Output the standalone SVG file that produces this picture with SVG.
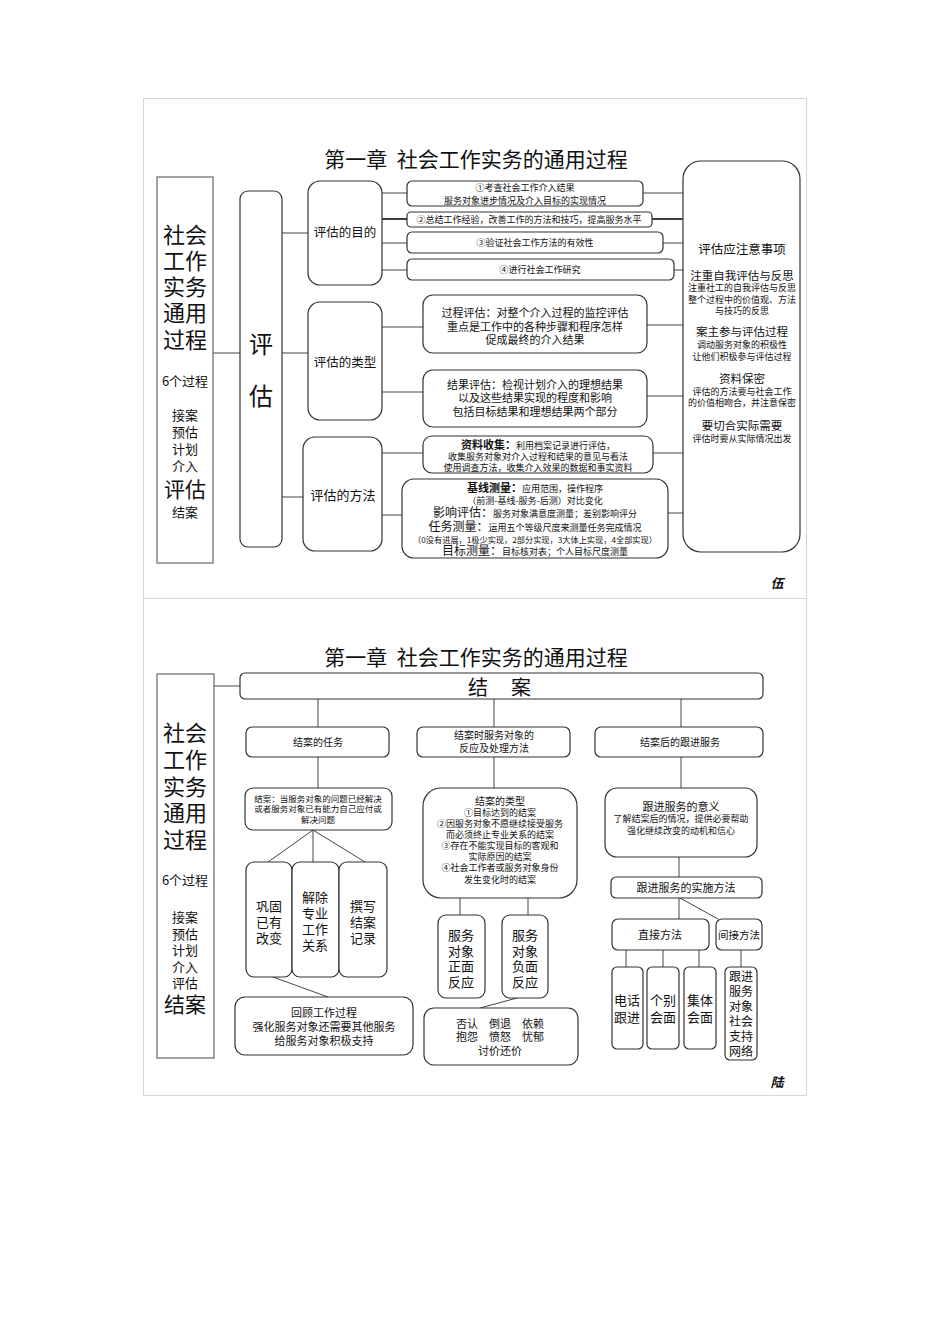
<svg xmlns="http://www.w3.org/2000/svg" width="950" height="1344" viewBox="0 0 950 1344">
<style>
.fr{fill:none;stroke:#d6d6d6;stroke-width:1}
.sq{fill:#fff;stroke:#666;stroke-width:1.2}
.bx{fill:#fff;stroke:#333;stroke-width:1.2}
.ln{stroke:#444;stroke-width:1;fill:none}
.lk{stroke:#111;stroke-width:1.6;fill:none}
text{font-family:"Noto Sans CJK SC","Noto Sans CJK JP",sans-serif;fill:#111;text-anchor:middle}
.b{font-weight:bold}
.ttl{font-size:21px;white-space:pre}
.sig{font-size:13px;font-weight:bold;font-style:italic}
</style>
<rect width="950" height="1344" fill="#fff"/>
<g id="frames">
<rect class="fr" x="143.5" y="98.5" width="663" height="500"/>
<rect class="fr" x="143.5" y="598.5" width="663" height="497"/>
</g>

<g id="connectors">
<line class="ln" x1="213" y1="353" x2="240" y2="353"/>
<line class="ln" x1="282" y1="233" x2="308" y2="233"/>
<line class="ln" x1="282" y1="353" x2="308" y2="353"/>
<line class="ln" x1="282" y1="497" x2="303" y2="497"/>
<line class="ln" x1="382" y1="193" x2="407" y2="193"/>
<line class="lk" x1="382" y1="219" x2="407" y2="219"/>
<line class="ln" x1="382" y1="243" x2="407" y2="243"/>
<line class="ln" x1="382" y1="270" x2="407" y2="270"/>
<line class="ln" x1="643" y1="193" x2="683" y2="193"/>
<line class="lk" x1="652" y1="219" x2="683" y2="219"/>
<line class="ln" x1="663" y1="243" x2="683" y2="243"/>
<line class="ln" x1="674" y1="270" x2="683" y2="270"/>
<line class="ln" x1="382" y1="327" x2="423" y2="327"/>
<line class="ln" x1="382" y1="392" x2="423" y2="392"/>
<line class="ln" x1="647" y1="325" x2="683" y2="325"/>
<line class="ln" x1="647" y1="396" x2="683" y2="396"/>
<line class="ln" x1="382" y1="453" x2="423" y2="453"/>
<line class="ln" x1="382" y1="515" x2="402" y2="515"/>
<line class="ln" x1="653" y1="453" x2="683" y2="453"/>
<line class="ln" x1="668" y1="513" x2="683" y2="513"/>

<line class="ln" x1="214" y1="686" x2="240" y2="686"/>
<line class="ln" x1="318" y1="699" x2="318" y2="727"/>
<line class="ln" x1="494" y1="699" x2="494" y2="727"/>
<line class="ln" x1="681" y1="699" x2="681" y2="727"/>
<line class="ln" x1="318" y1="757" x2="318" y2="788"/>
<line class="ln" x1="494" y1="757" x2="494" y2="788"/>
<line class="ln" x1="681" y1="757" x2="681" y2="788"/>
<line class="ln" x1="313" y1="830" x2="268" y2="862"/>
<line class="ln" x1="313" y1="830" x2="313" y2="862"/>
<line class="ln" x1="313" y1="830" x2="365" y2="862"/>
<line class="ln" x1="273" y1="977" x2="328" y2="997"/>
<line class="ln" x1="460" y1="898" x2="460" y2="915"/>
<line class="ln" x1="528" y1="898" x2="528" y2="915"/>
<line class="ln" x1="517" y1="998" x2="480" y2="1008"/>
<line class="ln" x1="679" y1="857" x2="679" y2="877"/>
<line class="ln" x1="679" y1="898" x2="679" y2="919"/>
<line class="ln" x1="680" y1="898" x2="718" y2="919"/>
<line class="ln" x1="626" y1="950" x2="626" y2="967"/>
<line class="ln" x1="663" y1="950" x2="663" y2="967"/>
<line class="ln" x1="699" y1="950" x2="699" y2="967"/>
<line class="ln" x1="741" y1="950" x2="741" y2="967"/>
</g>

<g id="title1"><text class="ttl" x="476" y="167" xml:space="preserve">第一章  社会工作实务的通用过程</text></g>

<g id="left1">
<rect class="sq" x="157" y="177" width="56" height="386"/>
<text x="185" font-size="22"><tspan x="185" y="243">社会</tspan><tspan x="185" y="269">工作</tspan><tspan x="185" y="295">实务</tspan><tspan x="185" y="321">通用</tspan><tspan x="185" y="348">过程</tspan></text>
<text x="185" y="386" font-size="13">6个过程</text>
<text font-size="13"><tspan x="185" y="420">接案</tspan><tspan x="185" y="437">预估</tspan><tspan x="185" y="454">计划</tspan><tspan x="185" y="471">介入</tspan></text>
<text x="185" y="497" font-size="21">评估</text>
<text x="185" y="517" font-size="13">结案</text>
</g>

<g id="eval">
<rect class="bx" x="240" y="191" width="42" height="356" rx="8"/>
<text x="261" y="353" font-size="24">评</text>
<text x="261" y="405" font-size="24">估</text>
</g>

<g id="purpose">
<rect class="bx" x="308" y="181" width="74" height="104" rx="12"/>
<text x="345" y="237" font-size="12.5">评估的目的</text>
</g>
<g id="types">
<rect class="bx" x="308" y="302" width="74" height="118" rx="12"/>
<text x="345" y="367" font-size="12.5">评估的类型</text>
</g>
<g id="methods">
<rect class="bx" x="303" y="437" width="79" height="114" rx="12"/>
<text x="343" y="500" font-size="13">评估的方法</text>
</g>

<g id="p1">
<rect class="bx" x="407" y="181" width="236" height="25" rx="5"/>
<text x="525" y="191" font-size="9">①考查社会工作介入结果</text>
<text x="525" y="204" font-size="9">服务对象进步情况及介入目标的实现情况</text>
</g>
<g id="p2">
<rect class="bx" x="407" y="212" width="245" height="15" rx="4"/>
<text x="529" y="223" font-size="9">②总结工作经验，改善工作的方法和技巧，提高服务水平</text>
</g>
<g id="p3">
<rect class="bx" x="407" y="232" width="256" height="21" rx="5"/>
<text x="535" y="246" font-size="9">③验证社会工作方法的有效性</text>
</g>
<g id="p4">
<rect class="bx" x="407" y="259" width="267" height="21" rx="5"/>
<text x="540" y="273" font-size="9">④进行社会工作研究</text>
</g>

<g id="notes">
<rect class="bx" x="683" y="161" width="117" height="391" rx="18"/>
<text x="742" y="254" font-size="12.5">评估应注意事项</text>
<text x="742" y="280" font-size="11.5">注重自我评估与反思</text>
<text font-size="9"><tspan x="742" y="291">注重社工的自我评估与反思</tspan><tspan x="742" y="302.5">整个过程中的价值观、方法</tspan><tspan x="742" y="314">与技巧的反思</tspan></text>
<text x="742" y="336" font-size="11.5">案主参与评估过程</text>
<text font-size="9"><tspan x="742" y="348">调动服务对象的积极性</tspan><tspan x="742" y="360">让他们积极参与评估过程</tspan></text>
<text x="742" y="383" font-size="11.5">资料保密</text>
<text font-size="9"><tspan x="742" y="394.5">评估的方法要与社会工作</tspan><tspan x="742" y="405.5">的价值相吻合，并注意保密</tspan></text>
<text x="742" y="430" font-size="11.5">要切合实际需要</text>
<text x="742" y="442" font-size="9">评估时要从实际情况出发</text>
</g>

<g id="tA">
<rect class="bx" x="423" y="295" width="224" height="58" rx="10"/>
<text font-size="11"><tspan x="535" y="317">过程评估：对整个介入过程的监控评估</tspan><tspan x="535" y="331">重点是工作中的各种步骤和程序怎样</tspan><tspan x="535" y="344">促成最终的介入结果</tspan></text>
</g>
<g id="tB">
<rect class="bx" x="423" y="370" width="224" height="57" rx="10"/>
<text font-size="11"><tspan x="535" y="389">结果评估：检视计划介入的理想结果</tspan><tspan x="535" y="402">以及这些结果实现的程度和影响</tspan><tspan x="535" y="416">包括目标结果和理想结果两个部分</tspan></text>
</g>
<g id="mC">
<rect class="bx" x="423" y="436" width="230" height="37" rx="9"/>
<text x="538" y="449"><tspan font-size="11" class="b">资料收集：</tspan><tspan font-size="9">利用档案记录进行评估，</tspan></text>
<text x="538" y="460" font-size="9">收集服务对象对介入过程和结果的意见与看法</text>
<text x="538" y="471" font-size="9">使用调查方法，收集介入效果的数据和事实资料</text>
</g>
<g id="mD">
<rect class="bx" x="402" y="479" width="266" height="79" rx="12"/>
<text x="535" y="492"><tspan font-size="11" class="b">基线测量：</tspan><tspan font-size="9">应用范围，操作程序</tspan></text>
<text x="535" y="503.5" font-size="9">（前测-基线-服务-后测）对比变化</text>
<text x="535" y="517"><tspan font-size="12">影响评估：</tspan><tspan font-size="9">服务对象满意度测量；差别影响评分</tspan></text>
<text x="535" y="531"><tspan font-size="12">任务测量：</tspan><tspan font-size="9">运用五个等级尺度来测量任务完成情况</tspan></text>
<text x="535" y="542.5" font-size="8.2">（0没有进展，1极少实现，2部分实现，3大体上实现，4全部实现）</text>
<text x="535" y="555"><tspan font-size="12">目标测量：</tspan><tspan font-size="9">目标核对表；个人目标尺度测量</tspan></text>
</g>
<g id="sig1"><text class="sig" x="777" y="588">伍</text></g>

<g id="title2"><text class="ttl" x="476" y="665" xml:space="preserve">第一章  社会工作实务的通用过程</text></g>

<g id="left2">
<rect class="sq" x="157" y="674" width="57" height="384"/>
<text font-size="22"><tspan x="185" y="741">社会</tspan><tspan x="185" y="768">工作</tspan><tspan x="185" y="795">实务</tspan><tspan x="185" y="821">通用</tspan><tspan x="185" y="848">过程</tspan></text>
<text x="185" y="885" font-size="13">6个过程</text>
<text font-size="13"><tspan x="185" y="922">接案</tspan><tspan x="185" y="938.5">预估</tspan><tspan x="185" y="955">计划</tspan><tspan x="185" y="971.5">介入</tspan><tspan x="185" y="988">评估</tspan></text>
<text x="185" y="1012" font-size="21">结案</text>
</g>

<g id="jiean">
<rect class="bx" x="240" y="673" width="523" height="26" rx="5"/>
<text x="478" y="695" font-size="20">结</text>
<text x="521" y="695" font-size="20">案</text>
</g>
<g id="s1">
<rect class="bx" x="246" y="727" width="143" height="30" rx="6"/>
<text x="318" y="746" font-size="10">结案的任务</text>
</g>
<g id="s2">
<rect class="bx" x="417" y="727" width="153" height="30" rx="6"/>
<text x="494" y="739" font-size="10">结案时服务对象的</text>
<text x="494" y="752" font-size="10">反应及处理方法</text>
</g>
<g id="s3">
<rect class="bx" x="595" y="727" width="168" height="30" rx="6"/>
<text x="680" y="746" font-size="10">结案后的跟进服务</text>
</g>

<g id="L1">
<rect class="bx" x="245" y="788" width="147" height="42" rx="8"/>
<text font-size="8.5"><tspan x="318" y="802">结案：当服务对象的问题已经解决</tspan><tspan x="318" y="812">或者服务对象已有能力自己应付或</tspan><tspan x="318" y="823">解决问题</tspan></text>
</g>
<g id="L2a">
<rect class="bx" x="246" y="862" width="46" height="115" rx="8"/>
<text font-size="13"><tspan x="269" y="911">巩固</tspan><tspan x="269" y="927">已有</tspan><tspan x="269" y="943">改变</tspan></text>
</g>
<g id="L2b">
<rect class="bx" x="292" y="862" width="47" height="115" rx="8"/>
<text font-size="13"><tspan x="315" y="902">解除</tspan><tspan x="315" y="918">专业</tspan><tspan x="315" y="934">工作</tspan><tspan x="315" y="950">关系</tspan></text>
</g>
<g id="L2c">
<rect class="bx" x="339" y="862" width="48" height="115" rx="8"/>
<text font-size="13"><tspan x="363" y="911">撰写</tspan><tspan x="363" y="927">结案</tspan><tspan x="363" y="943">记录</tspan></text>
</g>
<g id="L3">
<rect class="bx" x="235" y="997" width="178" height="58" rx="10"/>
<text font-size="11"><tspan x="324" y="1017">回顾工作过程</tspan><tspan x="324" y="1031">强化服务对象还需要其他服务</tspan><tspan x="324" y="1045">给服务对象积极支持</tspan></text>
</g>

<g id="M1">
<rect class="bx" x="423" y="788" width="154" height="110" rx="18"/>
<text x="500" y="805" font-size="10">结案的类型</text>
<text font-size="9"><tspan x="500" y="816">①目标达到的结案</tspan><tspan x="500" y="827">②因服务对象不愿继续接受服务</tspan><tspan x="500" y="838">而必须终止专业关系的结案</tspan><tspan x="500" y="849">③存在不能实现目标的客观和</tspan><tspan x="500" y="860">实际原因的结案</tspan><tspan x="500" y="871">④社会工作者或服务对象身份</tspan><tspan x="500" y="883">发生变化时的结案</tspan></text>
</g>
<g id="M2a">
<rect class="bx" x="438" y="915" width="47" height="83" rx="8"/>
<text font-size="13"><tspan x="461" y="940">服务</tspan><tspan x="461" y="955.5">对象</tspan><tspan x="461" y="971">正面</tspan><tspan x="461" y="986.5">反应</tspan></text>
</g>
<g id="M2b">
<rect class="bx" x="502" y="915" width="46" height="83" rx="8"/>
<text font-size="13"><tspan x="525" y="940">服务</tspan><tspan x="525" y="955.5">对象</tspan><tspan x="525" y="971">负面</tspan><tspan x="525" y="986.5">反应</tspan></text>
</g>
<g id="M3">
<rect class="bx" x="424" y="1008" width="154" height="57" rx="10"/>
<text font-size="11"><tspan x="500" y="1028">否认　倒退　依赖</tspan><tspan x="500" y="1041">抱怨　愤怒　忧郁</tspan><tspan x="500" y="1055">讨价还价</tspan></text>
</g>

<g id="R1">
<rect class="bx" x="605" y="788" width="152" height="69" rx="12"/>
<text x="681" y="811" font-size="11">跟进服务的意义</text>
<text font-size="9"><tspan x="681" y="822">了解结案后的情况，提供必要帮助</tspan><tspan x="681" y="834">强化继续改变的动机和信心</tspan></text>
</g>
<g id="R2">
<rect class="bx" x="611" y="877" width="151" height="21" rx="5"/>
<text x="686" y="892" font-size="11">跟进服务的实施方法</text>
</g>
<g id="R3a">
<rect class="bx" x="612" y="919" width="97" height="31" rx="6"/>
<text x="660" y="939" font-size="11">直接方法</text>
</g>
<g id="R3b">
<rect class="bx" x="716" y="919" width="46" height="31" rx="6"/>
<text x="739" y="939" font-size="10.5">间接方法</text>
</g>
<g id="R4a">
<rect class="bx" x="612" y="967" width="31" height="82" rx="5"/>
<text font-size="13"><tspan x="627" y="1005">电话</tspan><tspan x="627" y="1022">跟进</tspan></text>
</g>
<g id="R4b">
<rect class="bx" x="647" y="967" width="32" height="82" rx="5"/>
<text font-size="13"><tspan x="663" y="1005">个别</tspan><tspan x="663" y="1022">会面</tspan></text>
</g>
<g id="R4c">
<rect class="bx" x="684" y="967" width="32" height="82" rx="5"/>
<text font-size="13"><tspan x="700" y="1005">集体</tspan><tspan x="700" y="1022">会面</tspan></text>
</g>
<g id="R4d">
<rect class="bx" x="725" y="967" width="32" height="93" rx="5"/>
<text font-size="12"><tspan x="741" y="981">跟进</tspan><tspan x="741" y="996">服务</tspan><tspan x="741" y="1011">对象</tspan><tspan x="741" y="1026">社会</tspan><tspan x="741" y="1041">支持</tspan><tspan x="741" y="1056">网络</tspan></text>
</g>
<g id="sig2"><text class="sig" x="777" y="1087">陆</text></g>
</svg>
